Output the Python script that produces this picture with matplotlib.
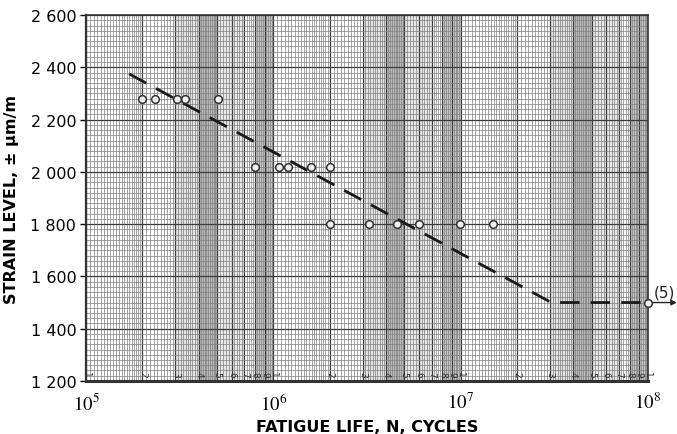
import numpy as np
import matplotlib.pyplot as plt
import matplotlib.ticker as mticker
import matplotlib.transforms as mtransforms

plt.rcParams['mathtext.fontset'] = 'stix'

# Test points (cycles, strain)
cycles_2280 = [2.0e5, 2.33e5, 3.05e5, 3.38e5, 5.05e5]
cycles_2020 = [8.0e5, 1.07e6, 1.2e6, 1.59e6, 2.0e6]
cycles_1800 = [2.0e6, 3.25e6, 4.55e6, 6.0e6, 9.9e6, 1.49e7]
cycles_1500 = [1.0e8]
strain_levels = [2280, 2020, 1800, 1500]

# Fatigue curve (dashed)
curve_cycles = [1.7e5, 3.05e7, 1.0e8]
curve_strain = [2375, 1500, 1500]

y_ticks = [1200, 1400, 1600, 1800, 2000, 2200, 2400, 2600]
decades = [1e5, 1e6, 1e7]

fig = plt.figure(figsize=(6.77, 4.35), dpi=100)
ax = fig.add_axes([0.127, 0.122, 0.83, 0.841])
ax.set_xscale('log')
ax.set_xlim(1e5, 1e8)
ax.set_ylim(1200, 2600)

# gray shaded bands of the log paper
for d in decades:
    ax.axvspan(3 * d, 4 * d, color='#a0a0a0', alpha=0.3, lw=0, zorder=0)
    ax.axvspan(4 * d, 5 * d, color='#808080', alpha=0.55, lw=0, zorder=0)
    ax.axvspan(5 * d, 7 * d, color='#a0a0a0', alpha=0.25, lw=0, zorder=0)
    ax.axvspan(8 * d, 10 * d, color='#808080', alpha=0.45, lw=0, zorder=0)

# fine log-paper grid
minor_x = []
for d in decades:
    minor_x += list(np.arange(1.0, 2.0, 0.05) * d)
    minor_x += list(np.arange(2.0, 5.0, 0.1) * d)
    minor_x += list(np.arange(5.0, 10.0, 0.2) * d)
major_x = [m * d for d in decades for m in range(1, 10)] + [1e8]
ax.set_xticks(major_x)
ax.set_xticks(minor_x, minor=True)
ax.xaxis.set_minor_formatter(mticker.NullFormatter())
ax.set_xticklabels([r'$10^{%d}$' % round(np.log10(v)) if i % 9 == 0 else ''
                    for i, v in enumerate(major_x)])
ax.set_yticks(y_ticks)
ax.set_yticklabels(['{:,}'.format(v).replace(',', ' ') for v in y_ticks])
ax.set_yticks(np.arange(1200, 2601, 20), minor=True)
ax.yaxis.set_minor_formatter(mticker.NullFormatter())

ax.grid(which='minor', color='#808080', lw=0.5, zorder=1)
ax.grid(which='major', color='#3c3c3c', lw=0.9, zorder=1)
ax.set_axisbelow(True)

ax.tick_params(axis='x', which='both', length=0, pad=8, labelsize=13.5)
ax.tick_params(axis='y', which='major', length=4, width=1, labelsize=11.5, pad=3)
ax.tick_params(axis='y', which='minor', length=0)

for s in ax.spines.values():
    s.set_color('#333333')
    s.set_linewidth(1.2)
ax.spines['bottom'].set_linewidth(2.2)
ax.spines['left'].set_linewidth(1.6)

# small rotated digits along the bottom of the paper
trans = mtransforms.blended_transform_factory(ax.transData, ax.transAxes)
for i, v in enumerate(major_x):
    digit = str(i % 9 + 1)
    ax.text(v, 0.012, digit, transform=trans, rotation=-90, fontsize=6.5,
            color='#333333', ha='center', va='bottom', zorder=3)

# dashed fatigue curve
ax.plot(curve_cycles, curve_strain, color='#1a1a1a', lw=2.0,
        dashes=(7, 4), zorder=4)

# data points
marker_kw = dict(ls='none', marker='o', ms=5.5, mfc='#f2f2f2', mec='#333333',
                 mew=1.1, zorder=5, clip_on=False)
for xs, s in zip([cycles_2280, cycles_2020, cycles_1800, cycles_1500], strain_levels):
    ax.plot(xs, [s] * len(xs), **marker_kw)

# arrow and note at the run-out point
x_end = cycles_1500[0] * 10 ** 0.155
ax.annotate('', xy=(x_end, strain_levels[-1]), xytext=(cycles_1500[0] * 1.03, strain_levels[-1]),
            arrowprops=dict(arrowstyle='-|>', color='#222222', lw=1.0,
                            mutation_scale=8, shrinkA=0, shrinkB=0),
            annotation_clip=False)
ax.text(cycles_1500[0] * 10 ** 0.09, strain_levels[-1] + 12, '(5)', fontsize=11,
        ha='center', va='bottom', color='#222222')

ax.set_xlabel('FATIGUE LIFE, N, CYCLES', fontsize=11.5, fontweight='bold',
              labelpad=4)
ax.set_ylabel('STRAIN LEVEL, \u00b1 \u00b5m/m', fontsize=11.5, fontweight='bold',
              labelpad=8)

fig.savefig('out.png', dpi=100)
